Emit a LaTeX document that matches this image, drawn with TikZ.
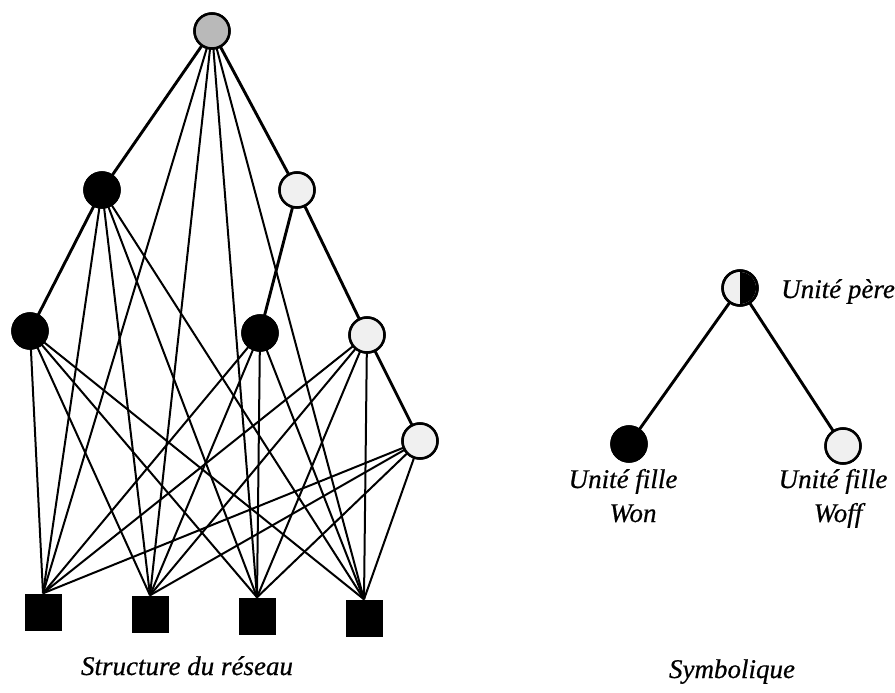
\documentclass[tikz,border=0pt]{standalone}
\usepackage{fontspec}
\setmainfont{Liberation Serif}
\begin{document}
\begin{tikzpicture}[x=1pt,y=-1pt,
  unit/.style={circle,draw=black,line width=2.5pt,minimum size=35pt,inner sep=0pt},
  onunit/.style={unit,fill=black},
  offunit/.style={unit,fill=gray!12},
  rootunit/.style={unit,fill=gray!55},
  inunit/.style={rectangle,fill=black,minimum size=37pt,inner sep=0pt},
  link/.style={line width=2pt},
  treelink/.style={line width=2.9pt},
  lbl/.style={font=\fontsize{27}{32}\selectfont\itshape\addfontfeatures{FakeBold=0.6},inner sep=0pt}]
\useasboundingbox (0,0) rectangle (895,693);
% nodes
\node[rootunit] (R) at (212,31) {};
\node[onunit] (A) at (102,190) {};
\node[offunit] (B) at (297,190) {};
\node[onunit] (C) at (30,331) {};
\node[onunit] (D) at (260,333) {};
\node[offunit] (E) at (367,335) {};
\node[offunit] (F) at (420,441) {};
\node[inunit] (S1) at (43,612) {};
\node[inunit] (S2) at (150,614) {};
\node[inunit] (S3) at (257,616) {};
\node[inunit] (S4) at (364,618) {};
% connectors
\foreach \n in {R,A,C,D,E,F}{
  \foreach \s in {S1,S2,S3,S4}{
    \draw[link] (\n.center) -- (\s.north);
  }
}
\draw[treelink] (R.center) -- (A.center);
\draw[treelink] (R.center) -- (B.center);
\draw[treelink] (A.center) -- (C.center);
\draw[treelink] (B.center) -- (D.center);
\draw[treelink] (B.center) -- (E.center);
\draw[treelink] (E.center) -- (F.center);
% redraw nodes on top of the connectors
\node[rootunit] at (R) {};
\node[onunit] at (A) {};
\node[offunit] at (B) {};
\node[onunit] at (C) {};
\node[onunit] at (D) {};
\node[offunit] at (E) {};
\node[offunit] at (F) {};
\node[inunit] at (S1) {};
\node[inunit] at (S2) {};
\node[inunit] at (S3) {};
\node[inunit] at (S4) {};
% legend
\coordinate (P) at (740,288);
\node[onunit] (Won) at (629,444) {};
\node[offunit] (Woff) at (843,446) {};
\draw[treelink] (P) -- (Won.center);
\draw[treelink] (P) -- (Woff.center);
\node[onunit] at (Won) {};
\node[offunit] at (Woff) {};
\node[offunit] (Pn) at (P) {};
\fill[black] (740,272) arc (-90:90:16) -- cycle;
\node[unit] at (P) {};
% labels
\node[lbl,anchor=base west] (lp) at (781,298) {Unité père};
\node[lbl,anchor=base] (l1) at (623,488) {Unité fille};
\node[lbl,anchor=base] (l2) at (633,522) {Won};
\node[lbl,anchor=base] (l3) at (833,488) {Unité fille};
\node[lbl,anchor=base] (l4) at (838,522) {Woff};
\node[lbl,anchor=base] (t1) at (187,675) {Structure du réseau};
\node[lbl,anchor=base] (t2) at (732,678) {Symbolique};
\end{tikzpicture}
\end{document}
